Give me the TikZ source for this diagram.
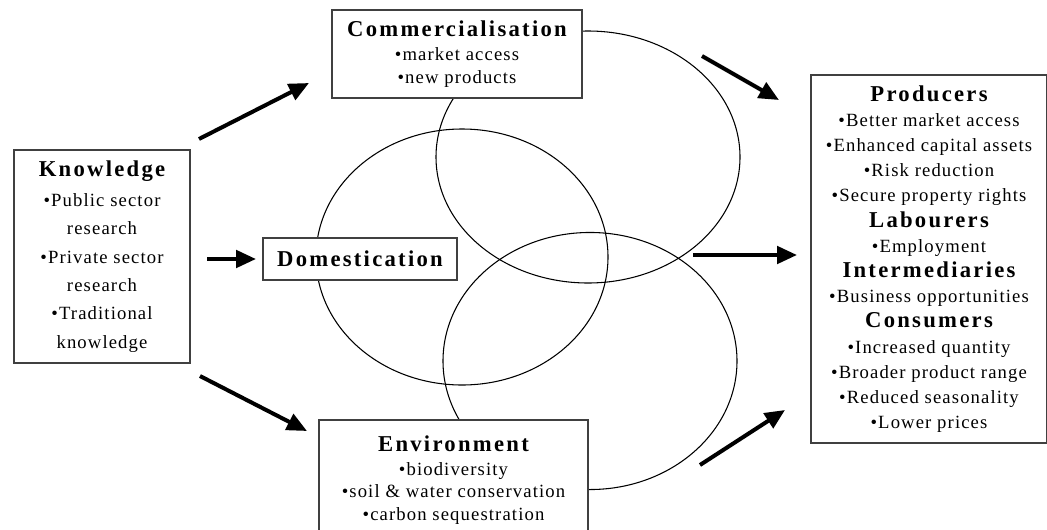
\documentclass[tikz,border=0pt]{standalone}
\usepackage{fontspec}
\setmainfont{Liberation Serif}
\newfontfamily\bulletfont[LetterSpace=6]{Liberation Serif}
\newfontfamily\headfont[LetterSpace=10]{Liberation Serif}
\usepackage{tikz}
\usetikzlibrary{arrows.meta}
\newcommand{\boxhead}[1]{{\headfont\bfseries\fontsize{17}{20}\selectfont #1}}

\begin{document}
\begin{tikzpicture}[
    x=0.75pt, y=-0.75pt,
    >={Triangle[length=15pt, width=13pt]},
    %% ── Boxes ──
    panel/.style={rectangle, draw=black!75, line width=1pt, fill=white,
        align=center, inner sep=0pt},
    small/.style={font=\bulletfont\fontsize{14}{17}\selectfont},
    %% ── Arrows / ovals ──
    flow/.style={->, line width=3pt},
    oval/.style={draw, line width=0.8pt},
]
\useasboundingbox (0,0) rectangle (1047,529);

% ── Overlapping ovals (drawn first, boxes cover them) ──
\draw[oval] (462,257) ellipse [x radius=109.5pt, y radius=96pt];
\draw[oval] (588,157) ellipse [x radius=114pt, y radius=94.5pt];
\draw[oval] (590,361) ellipse [x radius=110.25pt, y radius=96.4pt];

% ── Source ──
\node[panel, minimum width=132pt, minimum height=159.75pt,
      font=\bulletfont\fontsize{14}{21.2}\selectfont] (knowledge) at (102,256.5)
    {\boxhead{Knowledge}\\[1.3pt]
     •Public sector\\research\\•Private sector\\research\\•Traditional\\knowledge};

% ── Three pillars ──
\node[panel, small, minimum width=187.5pt, minimum height=66pt] (commerce) at (457,54)
    {\boxhead{Commercialisation}\\[1.5pt] •market access\\•new products};
\node[panel, minimum width=145.5pt, minimum height=31.5pt] (domest) at (360,259)
    {\boxhead{Domestication}};
\node[panel, small, minimum width=201.75pt, minimum height=90pt] (environ) at (453.5,480)
    {\boxhead{Environment}\\[1pt] •biodiversity\\•soil \& water conservation\\•carbon sequestration};

% ── Beneficiaries ──
\node[panel, minimum width=177pt, minimum height=276pt,
      font=\bulletfont\fontsize{14}{18.9}\selectfont] (benefits) at (929,259)
    {\boxhead{Producers}\\•Better market access\\•Enhanced capital assets\\
     •Risk reduction\\•Secure property rights\\
     \boxhead{Labourers}\\•Employment\\
     \boxhead{Intermediaries}\\•Business opportunities\\
     \boxhead{Consumers}\\•Increased quantity\\•Broader product range\\
     •Reduced seasonality\\•Lower prices};

% ── Arrow ends ──
\coordinate (k1) at (199,139);  \coordinate (c1) at (309,83);
\coordinate (k2) at (207,259);  \coordinate (d1) at (256,259);
\coordinate (k3) at (200,376);  \coordinate (e1) at (307,431);
\coordinate (o1) at (702,56);   \coordinate (b1) at (779,100);
\coordinate (o2) at (693,255);  \coordinate (b2) at (797,255);
\coordinate (o3) at (700,465);  \coordinate (b3) at (785,410);

% Knowledge → pillars
\draw[flow] (k1) -- (c1);
\draw[flow] (k2) -- (d1);
\draw[flow] (k3) -- (e1);

% ovals → beneficiaries
\draw[flow] (o1) -- (b1);
\draw[flow] (o2) -- (b2);
\draw[flow] (o3) -- (b3);

\end{tikzpicture}
\end{document}
